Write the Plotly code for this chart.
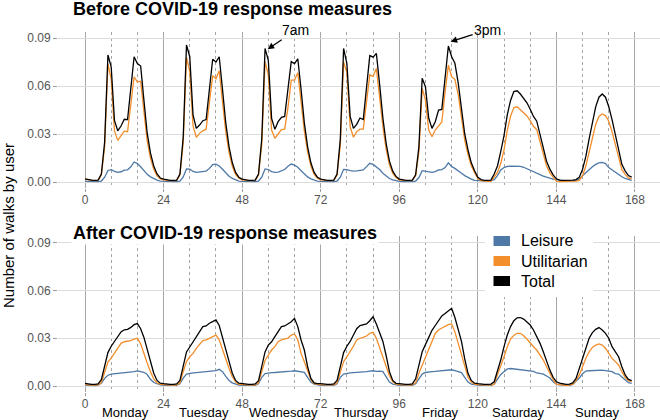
import plotly.graph_objects as go

hours = list(range(168))

# before COVID-19 response measures (hourly, Mon 0h .. Sun 23h)
before_leisure = [
    0.0004, 0.0003, 0.0002, 0.0002, 0.0002, 0.0006, 0.0030, 0.0072, 0.0077, 0.0066, 0.0060, 0.0064, 0.0074, 0.0076, 0.0095, 0.0125, 0.0115, 0.0095, 0.0070, 0.0048, 0.0032, 0.0020, 0.0012, 0.0006,
    0.0004, 0.0003, 0.0002, 0.0002, 0.0002, 0.0006, 0.0032, 0.0082, 0.0080, 0.0066, 0.0060, 0.0062, 0.0066, 0.0068, 0.0085, 0.0108, 0.0112, 0.0100, 0.0080, 0.0056, 0.0036, 0.0022, 0.0012, 0.0006,
    0.0004, 0.0003, 0.0002, 0.0002, 0.0002, 0.0006, 0.0030, 0.0082, 0.0078, 0.0065, 0.0060, 0.0062, 0.0070, 0.0078, 0.0098, 0.0112, 0.0105, 0.0092, 0.0070, 0.0048, 0.0032, 0.0020, 0.0012, 0.0006,
    0.0004, 0.0003, 0.0002, 0.0002, 0.0002, 0.0006, 0.0030, 0.0079, 0.0078, 0.0071, 0.0068, 0.0070, 0.0075, 0.0076, 0.0096, 0.0117, 0.0110, 0.0095, 0.0078, 0.0055, 0.0036, 0.0022, 0.0013, 0.0007,
    0.0004, 0.0003, 0.0002, 0.0002, 0.0002, 0.0006, 0.0028, 0.0071, 0.0068, 0.0065, 0.0060, 0.0065, 0.0075, 0.0078, 0.0090, 0.0120, 0.0096, 0.0085, 0.0072, 0.0055, 0.0040, 0.0028, 0.0018, 0.0010,
    0.0008, 0.0007, 0.0006, 0.0006, 0.0008, 0.0015, 0.0040, 0.0075, 0.0090, 0.0097, 0.0099, 0.0100, 0.0100, 0.0098, 0.0092, 0.0082, 0.0072, 0.0062, 0.0053, 0.0045, 0.0037, 0.0030, 0.0023, 0.0018,
    0.0015, 0.0010, 0.0008, 0.0008, 0.0008, 0.0008, 0.0010, 0.0020, 0.0040, 0.0060, 0.0080, 0.0095, 0.0110, 0.0120, 0.0122, 0.0115, 0.0090, 0.0075, 0.0060, 0.0045, 0.0033, 0.0022, 0.0014, 0.0010,
]
before_utilitarian = [
    0.0016, 0.0012, 0.0010, 0.0008, 0.0010, 0.0044, 0.0220, 0.0740, 0.0643, 0.0319, 0.0260, 0.0286, 0.0318, 0.0314, 0.0490, 0.0658, 0.0625, 0.0630, 0.0440, 0.0257, 0.0148, 0.0080, 0.0038, 0.0019,
    0.0014, 0.0009, 0.0008, 0.0008, 0.0010, 0.0044, 0.0245, 0.0780, 0.0690, 0.0350, 0.0279, 0.0304, 0.0320, 0.0330, 0.0500, 0.0665, 0.0645, 0.0695, 0.0500, 0.0315, 0.0185, 0.0098, 0.0048, 0.0024,
    0.0014, 0.0009, 0.0008, 0.0008, 0.0010, 0.0044, 0.0235, 0.0752, 0.0669, 0.0325, 0.0273, 0.0300, 0.0327, 0.0330, 0.0465, 0.0637, 0.0637, 0.0683, 0.0505, 0.0320, 0.0188, 0.0100, 0.0048, 0.0024,
    0.0014, 0.0009, 0.0008, 0.0008, 0.0010, 0.0044, 0.0235, 0.0750, 0.0685, 0.0345, 0.0280, 0.0315, 0.0330, 0.0330, 0.0510, 0.0670, 0.0660, 0.0710, 0.0530, 0.0345, 0.0204, 0.0108, 0.0055, 0.0028,
    0.0014, 0.0009, 0.0008, 0.0008, 0.0010, 0.0039, 0.0190, 0.0585, 0.0512, 0.0325, 0.0283, 0.0325, 0.0350, 0.0375, 0.0560, 0.0730, 0.0658, 0.0640, 0.0548, 0.0395, 0.0260, 0.0172, 0.0102, 0.0060,
    0.0022, 0.0008, 0.0004, 0.0004, 0.0004, 0.0035, 0.0060, 0.0115, 0.0200, 0.0323, 0.0411, 0.0465, 0.0470, 0.0452, 0.0433, 0.0413, 0.0383, 0.0348, 0.0327, 0.0245, 0.0163, 0.0100, 0.0057, 0.0027,
    0.0005, 0.0002, 0.0002, 0.0002, 0.0002, 0.0004, 0.0005, 0.0010, 0.0040, 0.0100, 0.0190, 0.0285, 0.0360, 0.0410, 0.0425, 0.0415, 0.0380, 0.0315, 0.0230, 0.0145, 0.0077, 0.0048, 0.0026, 0.0020,
]
before_total = [
    0.0020, 0.0015, 0.0012, 0.0010, 0.0012, 0.0050, 0.0250, 0.0794, 0.0720, 0.0385, 0.0320, 0.0350, 0.0392, 0.0390, 0.0585, 0.0783, 0.0740, 0.0725, 0.0510, 0.0305, 0.0180, 0.0100, 0.0050, 0.0025,
    0.0018, 0.0012, 0.0010, 0.0010, 0.0012, 0.0050, 0.0280, 0.0856, 0.0783, 0.0420, 0.0335, 0.0356, 0.0383, 0.0390, 0.0575, 0.0767, 0.0750, 0.0783, 0.0580, 0.0370, 0.0220, 0.0120, 0.0060, 0.0030,
    0.0018, 0.0012, 0.0010, 0.0010, 0.0012, 0.0050, 0.0270, 0.0835, 0.0760, 0.0398, 0.0329, 0.0377, 0.0404, 0.0410, 0.0565, 0.0752, 0.0740, 0.0770, 0.0580, 0.0370, 0.0220, 0.0120, 0.0060, 0.0030,
    0.0018, 0.0012, 0.0010, 0.0010, 0.0012, 0.0050, 0.0270, 0.0835, 0.0740, 0.0410, 0.0335, 0.0360, 0.0400, 0.0390, 0.0585, 0.0790, 0.0780, 0.0804, 0.0610, 0.0400, 0.0240, 0.0130, 0.0068, 0.0035,
    0.0018, 0.0012, 0.0010, 0.0010, 0.0012, 0.0045, 0.0220, 0.0648, 0.0596, 0.0398, 0.0335, 0.0377, 0.0450, 0.0454, 0.0658, 0.0850, 0.0783, 0.0742, 0.0620, 0.0450, 0.0300, 0.0200, 0.0120, 0.0070,
    0.0030, 0.0015, 0.0010, 0.0010, 0.0012, 0.0050, 0.0100, 0.0190, 0.0290, 0.0420, 0.0510, 0.0565, 0.0570, 0.0550, 0.0525, 0.0495, 0.0455, 0.0410, 0.0380, 0.0290, 0.0200, 0.0130, 0.0080, 0.0045,
    0.0020, 0.0012, 0.0010, 0.0010, 0.0010, 0.0012, 0.0015, 0.0030, 0.0080, 0.0160, 0.0270, 0.0380, 0.0470, 0.0530, 0.0550, 0.0530, 0.0470, 0.0390, 0.0290, 0.0190, 0.0110, 0.0070, 0.0040, 0.0030,
]

# after COVID-19 response measures
after_leisure = [
    0.0006, 0.0004, 0.0003, 0.0003, 0.0005, 0.0017, 0.0048, 0.0068, 0.0075, 0.0077, 0.0078, 0.0080, 0.0082, 0.0084, 0.0086, 0.0090, 0.0095, 0.0088, 0.0086, 0.0072, 0.0042, 0.0022, 0.0013, 0.0008,
    0.0005, 0.0004, 0.0003, 0.0003, 0.0005, 0.0015, 0.0050, 0.0075, 0.0080, 0.0082, 0.0084, 0.0086, 0.0087, 0.0089, 0.0091, 0.0094, 0.0097, 0.0105, 0.0090, 0.0060, 0.0035, 0.0020, 0.0011, 0.0006,
    0.0005, 0.0004, 0.0003, 0.0003, 0.0005, 0.0015, 0.0055, 0.0078, 0.0082, 0.0084, 0.0085, 0.0086, 0.0087, 0.0089, 0.0090, 0.0093, 0.0096, 0.0092, 0.0092, 0.0086, 0.0055, 0.0025, 0.0012, 0.0007,
    0.0005, 0.0004, 0.0003, 0.0003, 0.0005, 0.0015, 0.0055, 0.0075, 0.0080, 0.0082, 0.0084, 0.0085, 0.0087, 0.0089, 0.0090, 0.0094, 0.0096, 0.0092, 0.0094, 0.0090, 0.0055, 0.0025, 0.0012, 0.0007,
    0.0005, 0.0004, 0.0003, 0.0003, 0.0005, 0.0015, 0.0048, 0.0075, 0.0085, 0.0090, 0.0091, 0.0092, 0.0094, 0.0095, 0.0096, 0.0098, 0.0102, 0.0096, 0.0092, 0.0084, 0.0055, 0.0025, 0.0012, 0.0007,
    0.0006, 0.0004, 0.0003, 0.0003, 0.0004, 0.0012, 0.0045, 0.0073, 0.0090, 0.0107, 0.0110, 0.0107, 0.0104, 0.0102, 0.0099, 0.0096, 0.0094, 0.0092, 0.0082, 0.0078, 0.0075, 0.0063, 0.0050, 0.0027,
    0.0012, 0.0008, 0.0006, 0.0005, 0.0005, 0.0010, 0.0030, 0.0050, 0.0077, 0.0094, 0.0096, 0.0097, 0.0098, 0.0100, 0.0100, 0.0097, 0.0094, 0.0090, 0.0078, 0.0075, 0.0057, 0.0036, 0.0021, 0.0017,
]
after_utilitarian = [
    0.0010, 0.0007, 0.0006, 0.0006, 0.0008, 0.0022, 0.0085, 0.0150, 0.0175, 0.0205, 0.0237, 0.0268, 0.0278, 0.0280, 0.0285, 0.0295, 0.0300, 0.0265, 0.0200, 0.0145, 0.0090, 0.0045, 0.0020, 0.0010,
    0.0009, 0.0007, 0.0006, 0.0006, 0.0007, 0.0018, 0.0090, 0.0153, 0.0184, 0.0205, 0.0237, 0.0258, 0.0285, 0.0290, 0.0300, 0.0310, 0.0320, 0.0290, 0.0226, 0.0174, 0.0110, 0.0058, 0.0026, 0.0011,
    0.0009, 0.0007, 0.0006, 0.0006, 0.0007, 0.0020, 0.0090, 0.0160, 0.0195, 0.0226, 0.0247, 0.0278, 0.0290, 0.0295, 0.0300, 0.0320, 0.0327, 0.0290, 0.0205, 0.0153, 0.0090, 0.0040, 0.0015, 0.0010,
    0.0009, 0.0007, 0.0006, 0.0006, 0.0007, 0.0020, 0.0090, 0.0153, 0.0184, 0.0214, 0.0250, 0.0289, 0.0300, 0.0305, 0.0314, 0.0331, 0.0337, 0.0300, 0.0240, 0.0190, 0.0130, 0.0065, 0.0027, 0.0012,
    0.0009, 0.0007, 0.0006, 0.0006, 0.0007, 0.0020, 0.0080, 0.0130, 0.0180, 0.0235, 0.0280, 0.0330, 0.0352, 0.0365, 0.0375, 0.0385, 0.0390, 0.0340, 0.0270, 0.0190, 0.0115, 0.0055, 0.0025, 0.0012,
    0.0009, 0.0007, 0.0006, 0.0006, 0.0007, 0.0012, 0.0070, 0.0121, 0.0184, 0.0247, 0.0295, 0.0318, 0.0331, 0.0331, 0.0316, 0.0295, 0.0268, 0.0247, 0.0226, 0.0195, 0.0163, 0.0121, 0.0080, 0.0040,
    0.0012, 0.0008, 0.0006, 0.0005, 0.0006, 0.0010, 0.0034, 0.0070, 0.0121, 0.0174, 0.0214, 0.0242, 0.0257, 0.0264, 0.0257, 0.0237, 0.0205, 0.0174, 0.0153, 0.0132, 0.0090, 0.0055, 0.0034, 0.0027,
]
after_total = [
    0.0017, 0.0012, 0.0010, 0.0010, 0.0014, 0.0040, 0.0130, 0.0210, 0.0250, 0.0280, 0.0310, 0.0340, 0.0353, 0.0356, 0.0368, 0.0385, 0.0392, 0.0360, 0.0305, 0.0235, 0.0150, 0.0080, 0.0035, 0.0018,
    0.0015, 0.0011, 0.0010, 0.0010, 0.0013, 0.0035, 0.0121, 0.0214, 0.0245, 0.0278, 0.0310, 0.0340, 0.0373, 0.0377, 0.0394, 0.0404, 0.0415, 0.0380, 0.0310, 0.0240, 0.0155, 0.0080, 0.0035, 0.0018,
    0.0015, 0.0011, 0.0010, 0.0010, 0.0013, 0.0033, 0.0121, 0.0214, 0.0257, 0.0278, 0.0310, 0.0340, 0.0373, 0.0377, 0.0390, 0.0404, 0.0425, 0.0373, 0.0289, 0.0226, 0.0121, 0.0048, 0.0020, 0.0015,
    0.0015, 0.0011, 0.0010, 0.0010, 0.0013, 0.0035, 0.0120, 0.0210, 0.0250, 0.0280, 0.0320, 0.0360, 0.0380, 0.0385, 0.0390, 0.0410, 0.0435, 0.0390, 0.0340, 0.0280, 0.0190, 0.0090, 0.0035, 0.0017,
    0.0015, 0.0011, 0.0010, 0.0010, 0.0013, 0.0045, 0.0140, 0.0215, 0.0260, 0.0310, 0.0350, 0.0380, 0.0410, 0.0440, 0.0455, 0.0470, 0.0488, 0.0430, 0.0360, 0.0280, 0.0170, 0.0080, 0.0035, 0.0018,
    0.0015, 0.0011, 0.0010, 0.0010, 0.0012, 0.0027, 0.0090, 0.0163, 0.0247, 0.0320, 0.0373, 0.0410, 0.0428, 0.0430, 0.0420, 0.0400, 0.0383, 0.0352, 0.0310, 0.0268, 0.0215, 0.0153, 0.0100, 0.0055,
    0.0027, 0.0018, 0.0013, 0.0011, 0.0012, 0.0020, 0.0048, 0.0110, 0.0184, 0.0247, 0.0300, 0.0335, 0.0356, 0.0367, 0.0352, 0.0331, 0.0300, 0.0247, 0.0214, 0.0184, 0.0121, 0.0070, 0.0042, 0.0034,
]

series_names = ["Leisure", "Utilitarian", "Total"]
series_colors = ["#4e79a7", "#f28e2b", "#000000"]
day_names = ["Monday", "Tuesday", "Wednesday", "Thursday", "Friday", "Saturday", "Sunday"]
hour_ticks = [0, 24, 48, 72, 96, 120, 144, 168]
minor_ticks = [h + d for d in range(0, 168, 24) for h in (8, 16)]
y_ticks = [0, 0.03, 0.06, 0.09]
y_labels = ["0.00", "0.03", "0.06", "0.09"]

FONT = "Liberation Sans, Arial, sans-serif"
W, H, LEFT = 660, 420, 58


def px_x(p):
    return (p - LEFT) / (W - LEFT)


def px_y(p):
    return 1 - p / H


fig = go.Figure()
panels = [
    ("x", "y", [before_leisure, before_utilitarian, before_total]),
    ("x2", "y2", [after_leisure, after_utilitarian, after_total]),
]
for xa, ya, ys in panels:
    for name, color, vals in zip(series_names, series_colors, ys):
        fig.add_trace(go.Scatter(x=hours, y=vals, mode="lines", name=name,
                                 line=dict(color=color, width=1.3),
                                 showlegend=False, xaxis=xa, yaxis=ya,
                                 hoverinfo="skip"))

xcommon = dict(range=[-8.25, 175.65], tickmode="array", tickvals=hour_ticks,
               showgrid=True, gridcolor="#a6a6a6", gridwidth=0.6, automargin=False,
               ticks="outside", ticklen=3, tickcolor="#9a9a9a", ticklabelstandoff=-3,
               tickfont=dict(size=12, color="#555555"), zeroline=False, showline=False,
               minor=dict(tickmode="array", tickvals=minor_ticks, showgrid=True,
                          gridcolor="#a6a6a6", gridwidth=0.6, griddash="dot",
                          ticks=""))
ycommon = dict(range=[-0.004, 0.094], tickmode="array", tickvals=y_ticks,
               ticktext=y_labels, showgrid=True, gridcolor="#dcdcdc", gridwidth=1.1,
               automargin=False, ticks="outside", ticklen=4, tickcolor="#9a9a9a",
               tickfont=dict(size=12, color="#555555"), zeroline=False, showline=False)

fig.update_layout(
    template="none",
    width=W, height=H,
    margin=dict(l=LEFT, r=0, t=0, b=0, autoexpand=False),
    paper_bgcolor="white", plot_bgcolor="white",
    font=dict(family=FONT, color="black"),
    xaxis=dict(xcommon, domain=[0, 1], anchor="y"),
    yaxis=dict(ycommon, domain=[px_y(188.4), px_y(31.6)], anchor="x"),
    xaxis2=dict(xcommon, domain=[0, 1], anchor="y2"),
    yaxis2=dict(ycommon, domain=[px_y(392.4), px_y(236.3)], anchor="x2"),
)

ann = []
ann.append(dict(text="<b>Before COVID-19 response measures</b>", xref="paper", yref="paper",
                x=px_x(71), y=px_y(8.5), xanchor="left", yanchor="middle",
                showarrow=False, font=dict(size=18, color="black")))
ann.append(dict(text="<b>After COVID-19 response measures</b>", xref="paper", yref="paper",
                x=px_x(71), y=px_y(232.5), xanchor="left", yanchor="middle",
                showarrow=False, bgcolor="white", borderpad=1,
                font=dict(size=18, color="black")))
ann.append(dict(text="Number of walks by user", xref="paper", yref="paper",
                x=px_x(8), y=px_y(226), xanchor="center", yanchor="middle",
                textangle=-90, showarrow=False, font=dict(size=15, color="black")))
ann.append(dict(text="7am", x=55.8, y=0.083, xref="x", yref="y", ax=28, ay=-19,
                showarrow=True, arrowhead=2, arrowsize=1, arrowwidth=1.3,
                arrowcolor="black", font=dict(size=14, color="black")))
ann.append(dict(text="3pm", x=111.7, y=0.0877, xref="x", yref="y", ax=37, ay=-12,
                showarrow=True, arrowhead=2, arrowsize=1, arrowwidth=1.3,
                arrowcolor="black", font=dict(size=14, color="black")))
for i, day in enumerate(day_names):
    ann.append(dict(text=day, x=12.5 + 24 * i, xref="x2", yref="paper", y=px_y(412),
                    xanchor="center", yanchor="middle",
                    showarrow=False, font=dict(size=13, color="black")))

# legend drawn by hand: white box with wide colour keys
shapes = [dict(type="rect", xref="paper", yref="paper", x0=px_x(485), x1=px_x(593),
               y0=px_y(297), y1=px_y(228), fillcolor="white", line=dict(width=0),
               layer="above")]
for i, (name, color) in enumerate(zip(series_names, series_colors)):
    cy = 241 + 20 * i
    shapes.append(dict(type="rect", xref="paper", yref="paper", x0=px_x(493.5), x1=px_x(510),
                       y0=px_y(cy + 5), y1=px_y(cy - 5), fillcolor=color,
                       line=dict(width=0), layer="above"))
    ann.append(dict(text=name, xref="paper", yref="paper", x=px_x(519), y=px_y(cy),
                    xanchor="left", yanchor="middle", showarrow=False,
                    font=dict(size=16, color="black")))

fig.update_layout(annotations=ann, shapes=shapes)
# the page's default body margin would push the 660x420 figure off the window
fig.write_html("out.html", config={"displayModeBar": False},
               post_script="document.body.style.margin = '0';")
